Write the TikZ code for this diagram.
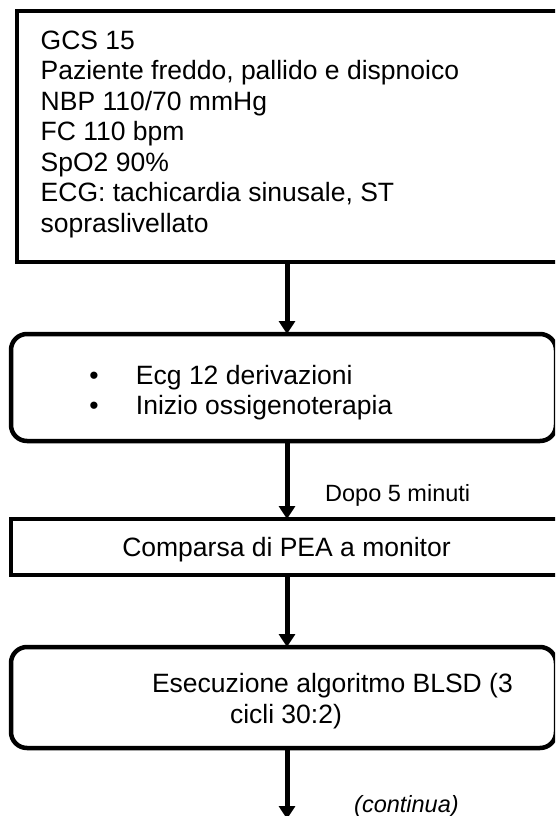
\documentclass[tikz,border=0pt]{standalone}
\usepackage{fontspec}
\setmainfont{Liberation Sans}
\usetikzlibrary{arrows.meta}
\begin{document}
\begin{tikzpicture}[x=1pt,y=-1pt,
  boxline/.style={draw=black, line width=4.5pt, rectangle, inner sep=0pt, outer sep=0pt, anchor=north west},
  sqbox/.style={boxline},
  rbox/.style={boxline, rounded corners=16pt},
  maintext/.style={font=\fontsize{26.5}{30.5}\selectfont, inner sep=0pt, outer sep=0pt},
  lbl/.style={font=\fontsize{23.5}{28}\selectfont, inner sep=0pt, anchor=base west},
  arr/.style={line width=5pt, -{Triangle[width=16pt,length=13pt]}}
]
\useasboundingbox (0,0) rectangle (555,816);
\clip (0,0) rectangle (555,816);
\fill[white] (0,0) rectangle (555,816);

% boxes
\node[sqbox, minimum width=603pt, minimum height=251pt] (b1) at (17,11) {};
\node[rbox,  minimum width=545pt, minimum height=107pt] (b2) at (11,334) {};
\node[sqbox, minimum width=609pt, minimum height=56pt]  (b3) at (11,519) {};
\node[rbox,  minimum width=545pt, minimum height=101pt] (b4) at (11,647) {};

% texts
\node[maintext, anchor=north west, align=left] (t1) at (40.7,27.65)
  {\strut GCS 15\\Paziente freddo, pallido e dispnoico\\NBP 110/70 mmHg\\FC 110 bpm\\SpO2 90\%\\ECG: tachicardia sinusale, ST\\sopraslivellato};
\node[maintext, anchor=north west, align=left] (t2) at (89.4,362.65)
  {\strut\makebox[46.6pt][l]{\textbullet}Ecg 12 derivazioni\\\makebox[46.6pt][l]{\textbullet}Inizio ossigenoterapia};
\node[maintext, anchor=base] (t3) at (286.5,556.5) {Comparsa di PEA a monitor};
\node[maintext, anchor=north west, align=left] (t4) at (152,671.15)
  {\strut Esecuzione algoritmo BLSD (3\\\hspace*{78pt}cicli 30:2)};

\node[lbl] (l1) at (325,501.5) {Dopo 5 minuti};
\node[lbl] (l2) at (354,812) {\itshape (continua)};

% connectors
\coordinate (col) at (287,0);
\coordinate (tail) at (287,819);
\draw[arr] (b1.south -| col) -- (b2.north -| col);
\draw[arr] (b2.south -| col) -- (b3.north -| col);
\draw[arr] (b3.south -| col) -- (b4.north -| col);
\draw[arr] (b4.south -| col) -- (tail);
\end{tikzpicture}
\end{document}
